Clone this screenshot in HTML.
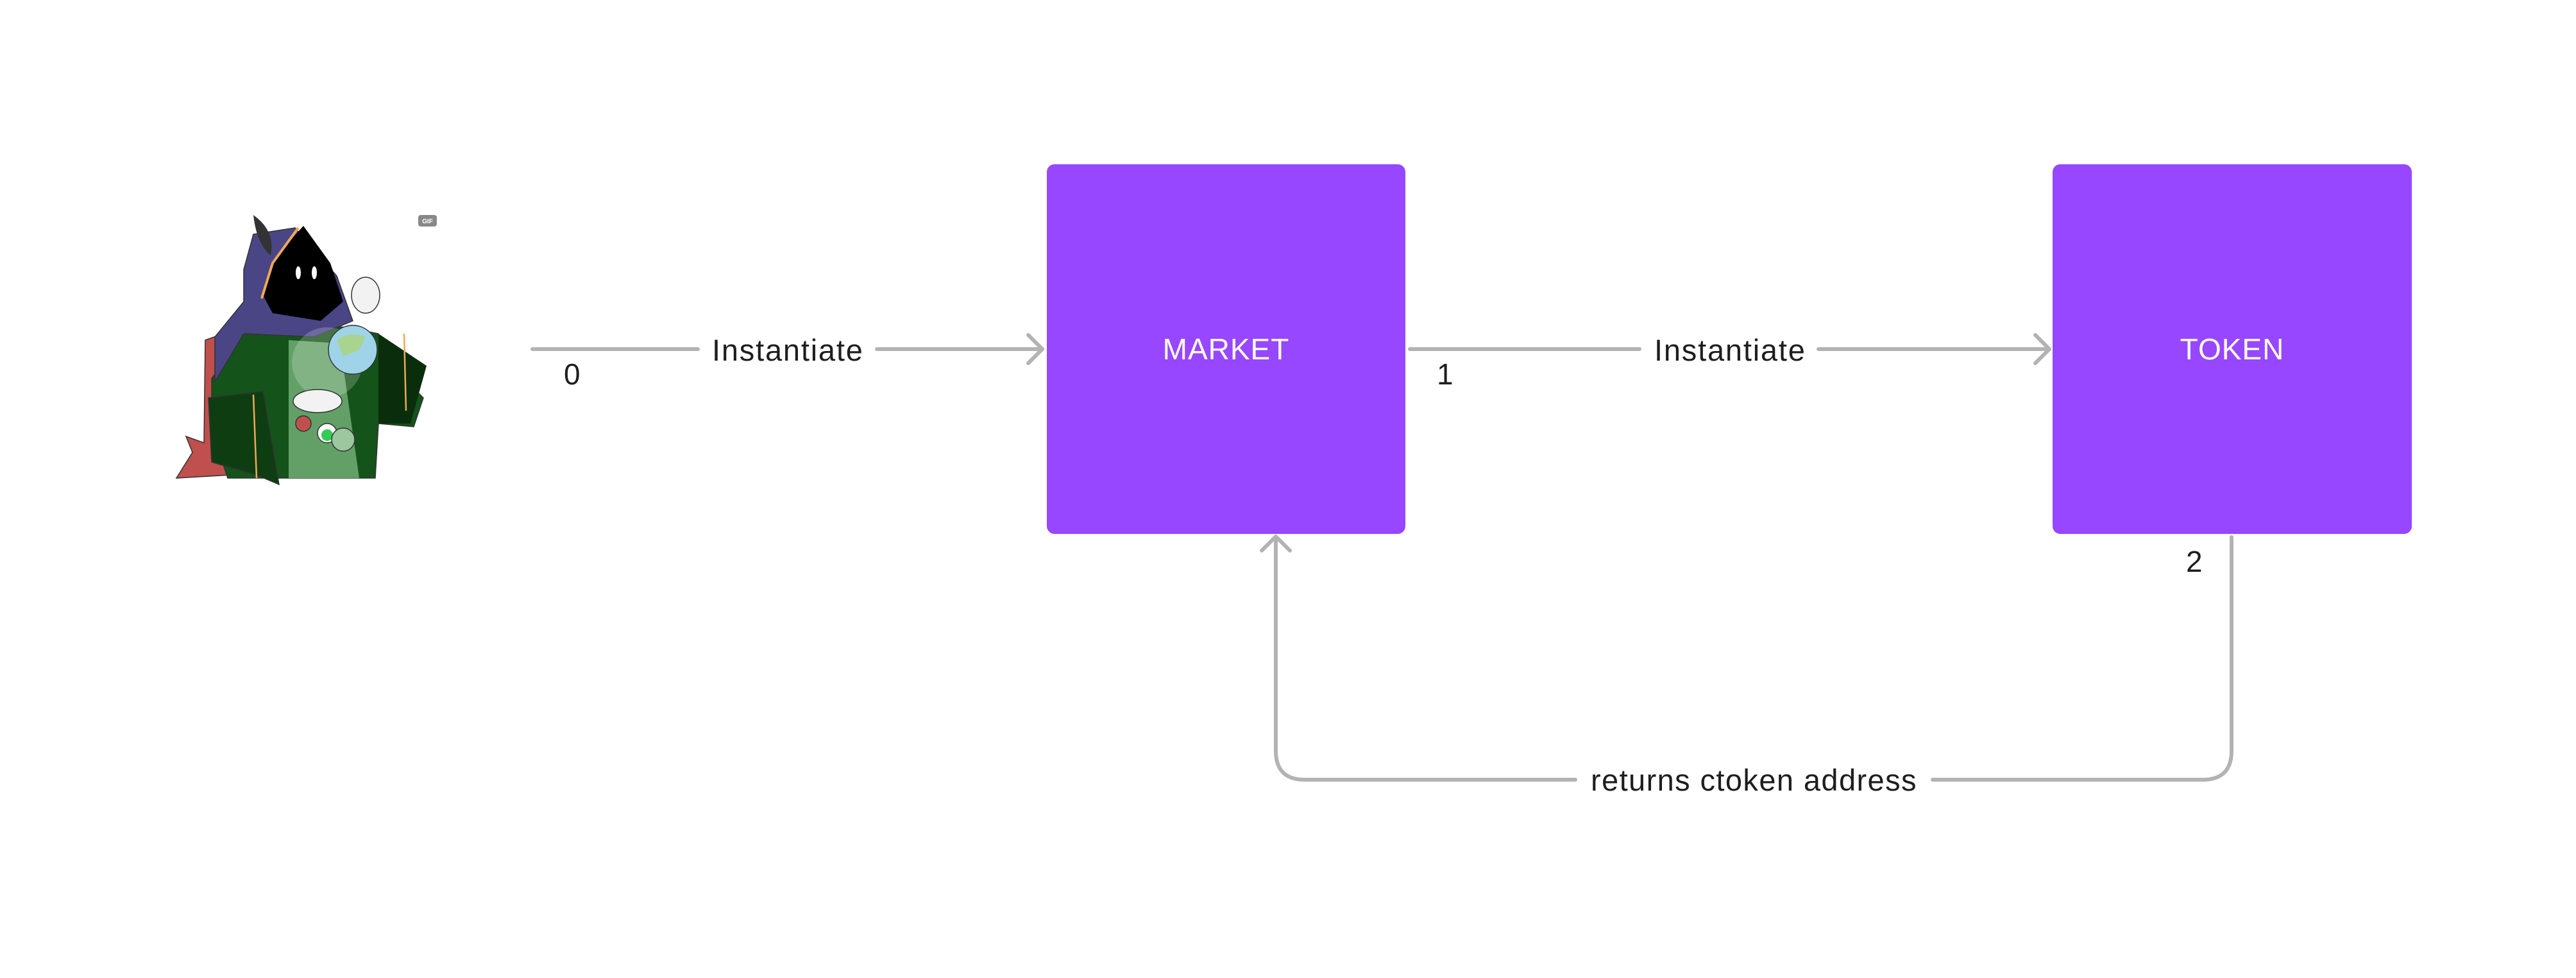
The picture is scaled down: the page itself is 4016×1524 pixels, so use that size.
<!DOCTYPE html>
<html><head><meta charset="utf-8"><style>
html,body{margin:0;padding:0;background:#fff;}
body{width:4016px;height:1524px;position:relative;overflow:hidden;font-family:"Liberation Sans",sans-serif;}
.box{position:absolute;background:#9747ff;border-radius:12px;color:#fff;font-size:46px;letter-spacing:1px;display:flex;align-items:center;justify-content:center;}
.t{position:absolute;color:#1e1e1e;font-size:46px;line-height:1;white-space:nowrap;}
</style></head><body>
<svg width="4016" height="1524" style="position:absolute;left:0;top:0">
<g stroke="#b3b3b3" stroke-width="6" fill="none" stroke-linecap="round" stroke-linejoin="round">
<line x1="830" y1="544" x2="1088" y2="544"/>
<line x1="1367" y1="544" x2="1625" y2="544"/>
<polyline points="1603,522 1625,544 1603,566"/>
<line x1="2198" y1="544" x2="2556" y2="544"/>
<line x1="2835" y1="544" x2="3195" y2="544"/>
<polyline points="3173,522 3195,544 3173,566"/>
<path d="M3479 837 V1170 Q3479 1215 3434 1215 H3013"/>
<path d="M2456 1215 H2034 Q1989 1215 1989 1170 V836"/>
<polyline points="1967,858 1989,836 2011,858"/>
</g>
<g transform="translate(260,320)">
<path d="M60,210 L88,200 L100,420 L15,425 L40,385 L30,360 L58,370 Z" fill="#c0504d" stroke="#333" stroke-width="1.5"/>
<path d="M70,270 L130,180 L280,190 L330,200 L360,260 L400,300 L385,345 L330,340 L325,425 L95,425 L70,350 Z" fill="#14531a" stroke="#333" stroke-width="1.5"/>
<path d="M190,210 L270,215 L300,425 L190,425 Z" fill="#62a067"/>
<path d="M330,200 L405,250 L380,340 L330,340 Z" fill="#0a2e0c"/>
<path d="M65,300 L150,290 L175,435 L140,420 L70,400 Z" fill="#0e3d12" stroke="#333" stroke-width="1.5"/>
<line x1="135" y1="295" x2="140" y2="425" stroke="#f0a858" stroke-width="2.5"/>
<line x1="370" y1="200" x2="373" y2="320" stroke="#f0a858" stroke-width="2.5"/>
<path d="M135,45 L200,35 L265,110 L290,180 L230,205 L120,200 L75,275 L75,205 L120,150 L120,100 Z" fill="#4a4585" stroke="#333" stroke-width="1.5"/>
<path d="M135,15 Q170,40 162,78 Q140,60 135,15 Z" fill="#333"/>
<path d="M213,32 L255,90 L275,150 L240,180 L165,168 L150,140 L170,80 Z" fill="#000"/>
<path d="M205,35 L165,90 L148,145" stroke="#f0a858" stroke-width="4" fill="none"/>
<ellipse cx="205" cy="105" rx="4" ry="10" fill="#fff"/>
<ellipse cx="230" cy="105" rx="4" ry="10" fill="#fff"/>
<circle cx="250" cy="245" r="55" fill="#fff" opacity="0.2"/>
<circle cx="290" cy="225" r="38" fill="#9fd3e8" stroke="#333" stroke-width="1.5"/>
<path d="M265,210 Q285,195 310,205 L300,225 L275,235 Z" fill="#a8d48f"/>
<ellipse cx="310" cy="140" rx="22" ry="28" fill="#f2f2f2" stroke="#333" stroke-width="1.5"/>
<ellipse cx="235" cy="305" rx="38" ry="18" fill="#f2f2f2" stroke="#333" stroke-width="1.5"/>
<circle cx="250" cy="355" r="15" fill="#fff" stroke="#333" stroke-width="1.5"/>
<circle cx="250" cy="358" r="9" fill="#33cc55"/>
<circle cx="213" cy="340" r="12" fill="#c0504d" stroke="#333" stroke-width="1.5"/>
<circle cx="275" cy="365" r="18" fill="#9cc79f" stroke="#333" stroke-width="1.5"/>
<rect x="392" y="15" width="29" height="18" rx="4" fill="#888"/>
<text x="406.5" y="28" font-size="10" fill="#fff" text-anchor="middle" font-family="Liberation Sans, sans-serif" font-weight="bold">GIF</text>
</g>
</svg>
<div class="box" style="left:1632px;top:256px;width:559px;height:576px;">MARKET</div>
<div class="box" style="left:3200px;top:256px;width:560px;height:576px;">TOKEN</div>
<div class="t" style="left:1110px;top:522px;font-size:47px;letter-spacing:1.8px;">Instantiate</div>
<div class="t" style="left:2579px;top:522px;font-size:47px;letter-spacing:1.8px;">Instantiate</div>
<div class="t" style="left:2480px;top:1192px;font-size:47px;letter-spacing:1.4px;">returns ctoken address</div>
<div class="t" style="left:879px;top:560px;">0</div>
<div class="t" style="left:2240px;top:560px;">1</div>
<div class="t" style="left:3408px;top:852px;">2</div>
</body></html>
